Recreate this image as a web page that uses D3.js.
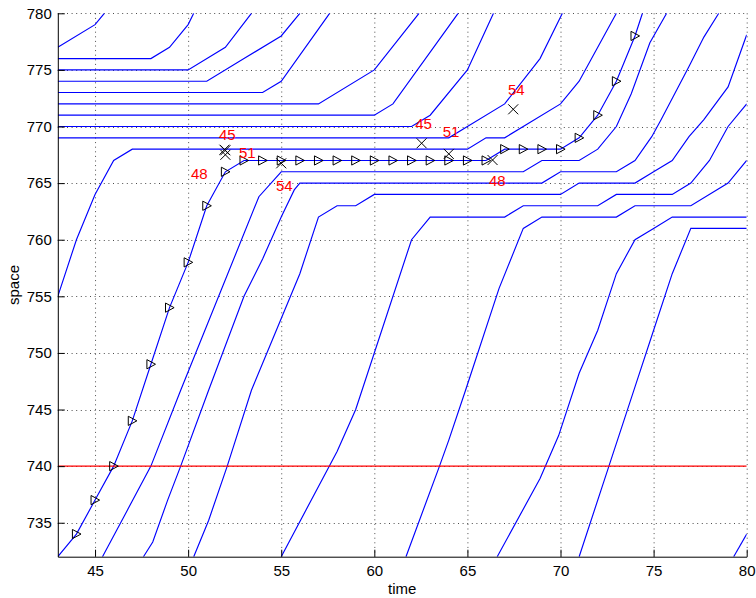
<!DOCTYPE html>
<html>
<head>
<meta charset="utf-8">
<style>
  body { margin: 0; background: #fff; }
  svg { font-family: "Liberation Sans", Arial, Helvetica, sans-serif; }
</style>
</head>
<body>
<svg width="756" height="598"></svg>
<script src="https://d3js.org/d3.v7.min.js"></script>
<script>
// vehicle trajectories, one array per vehicle, points are [time, space]
const trajectories = [
  [[43,777],[45,779],[45.5,780]],
  [[43,776],[48,776],[49,777],[50,779],[50.3,780]],
  [[43,775],[50,775],[52,777],[53.4,780]],
  [[43,774],[51,774],[53,776],[55,778],[56,780]],
  [[43,773],[54,773],[55,774],[57.6,780]],
  [[43,772],[57,772],[60,775],[62.4,780]],
  [[43,771],[60,771],[61,772],[64.5,780]],
  [[43,770],[62,770],[63,771],[65,775],[66.4,780]],
  [[43,769],[64,769],[65,770],[67,772],[68.9,776],[70.1,780]],
  [[43,755],[44,760],[45,764],[46,767],[47,768],[65,768],[66,769],[67,769],[70,772],[71,774],[73,780]],
  [[45.4,732],[46.7,736],[48,740],[49.6,746.7],[53.8,763.8],[55,766],[68,766],[69,767],[71,767],[72,768],[73,770],[73.8,772.9],[74.8,777.4],[75.7,780]],
  [[47.6,732],[48.1,733.3],[48.9,737],[49.6,740],[51.1,746.7],[53,755],[54,758.3],[55,762],[55.7,764.4],[56,765],[69,765],[70,766],[73,766],[74,767],[74.9,769.1],[75.4,770.6],[76.9,775.3],[77.7,777.9],[78.5,780]],
  [[50.3,732],[51.1,735.2],[52.1,740],[53.4,746.7],[56,757],[57,762],[58,763],[59,763],[60,764],[70,764],[71,765],[74,765],[75,766],[76,767],[76.9,769.1],[77.7,770.6],[79,773.5],[80,778.1]],
  [[55,732],[58,741.3],[59,745],[62,760],[63,762],[67,762],[68,763],[72,763],[73,764],[76,764],[77,765],[78,767],[79,770],[80,772]],
  [[61.7,732],[63.5,740],[64,742.3],[64.9,746.7],[66.7,755.7],[68,761],[69,762],[73,762],[74,763],[77,763],[79,765],[80,767]],
  [[66.6,732],[68.9,738.9],[69.9,742.7],[71,748.2],[72,752],[73,757],[74,760],[75,761],[76,762],[80,762]],
  [[71,732],[72.6,740],[74,747],[75,752],[76,757],[77,761],[80,761]],
  [[79.3,732],[80,734]]
];

// tracked vehicle, a triangle on every sample
const probe = [[43,732],[44,734],[45,737],[46,740],[47,744],[48,749],[49,754],[50,758],[51,763],[52,766],
  [53,767],[54,767],[55,767],[56,767],[57,767],[58,767],[59,767],[60,767],[61,767],[62,767],[63,767],
  [64,767],[65,767],[66,767],[67,768],[68,768],[69,768],[70,768],[71,769],[72,771],[73,774],[74,778],[74.4,780]];

// crossing marks (x) and their ids
const crossings = [[51.95,767.95],[52,767.9],[52,767.5],[55,766.75],[62.54,768.52],[64,767.58],[66.35,767.04],[67.46,771.52]];
const labelText = ["45","51","48","54","45","51","48","54"];
const labelPos = [[51.66,769.25],[52.73,767.66],[50.15,765.83],[54.72,764.8],[62.2,770.28],[63.67,769.57],[66.16,765.25],[67.18,773.3]];

const xTicks = [45,50,55,60,65,70,75,80];
const yTicks = [735,740,745,750,755,760,765,770,775,780];
const limitSpace = 740;

const svg = d3.select("svg");
const margin = {left: 57.8, right: 746.7, top: 13.3, bottom: 556.7};

const x = d3.scaleLinear().domain([43, 80]).range([margin.left, margin.right]);
const y = d3.scaleLinear().domain([732, 780]).range([margin.bottom, margin.top]);

svg.append("defs").append("clipPath").attr("id", "plot")
  .append("rect")
  .attr("x", margin.left).attr("y", margin.top)
  .attr("width", margin.right - margin.left)
  .attr("height", margin.bottom - margin.top);

// dotted grid
const grid = svg.append("g")
  .attr("stroke", "#000")
  .attr("stroke-opacity", 0.7)
  .attr("stroke-dasharray", "1,3.6");
grid.selectAll(".gx").data(xTicks).join("line")
  .attr("x1", d => x(d) + 0.5).attr("x2", d => x(d) + 0.5)
  .attr("y1", margin.top).attr("y2", margin.bottom);
grid.selectAll(".gy").data(yTicks).join("line")
  .attr("y1", d => Math.round(y(d)) + 0.5).attr("y2", d => Math.round(y(d)) + 0.5)
  .attr("x1", margin.left).attr("x2", margin.right);

const line = d3.line().x(d => x(d[0])).y(d => y(d[1]));

const plot = svg.append("g").attr("clip-path", "url(#plot)");

plot.append("g")
  .attr("fill", "none")
  .attr("stroke", "#0000ff")
  .attr("stroke-width", 1.15)
  .selectAll("path")
  .data(trajectories)
  .join("path")
  .attr("d", line);

plot.append("path")
  .datum(probe)
  .attr("fill", "none")
  .attr("stroke", "#0000ff")
  .attr("stroke-width", 1.15)
  .attr("d", line);

plot.append("line")
  .attr("x1", margin.left).attr("x2", margin.right)
  .attr("y1", y(limitSpace)).attr("y2", y(limitSpace))
  .attr("stroke", "#ff0000")
  .attr("stroke-width", 1.15);

// triangle markers
svg.append("g")
  .attr("fill", "none")
  .attr("stroke", "#000")
  .attr("stroke-width", 1)
  .selectAll("path")
  .data(probe.filter(d => d[1] > 732 && d[1] < 780))
  .join("path")
  .attr("transform", d => `translate(${x(d[0])},${y(d[1])})`)
  .attr("d", "M-4,-4.6L4.6,0L-4,4.6Z");

// x markers
svg.append("g")
  .attr("fill", "none")
  .attr("stroke", "#000")
  .attr("stroke-width", 1)
  .selectAll("path")
  .data(crossings)
  .join("path")
  .attr("transform", d => `translate(${x(d[0])},${y(d[1])})`)
  .attr("d", "M-5,-5L5,5M-5,5L5,-5");

svg.append("g")
  .attr("fill", "#ff0000")
  .attr("font-size", 15)
  .selectAll("text")
  .data(labelPos)
  .join("text")
  .attr("x", d => x(d[0]))
  .attr("y", d => y(d[1]))
  .attr("dy", "0.36em")
  .text((d, i) => labelText[i]);

// axes
const xAxis = svg.append("g")
  .attr("transform", `translate(0,${margin.bottom})`)
  .call(d3.axisBottom(x).tickValues(xTicks).tickSizeInner(-7).tickSizeOuter(0).tickPadding(9));
const yAxis = svg.append("g")
  .attr("transform", `translate(${margin.left},0)`)
  .call(d3.axisLeft(y).tickValues(yTicks).tickSizeInner(-7).tickSizeOuter(0).tickPadding(6));

[xAxis, yAxis].forEach(g => {
  g.attr("font-size", 15).attr("font-family", null);
  g.selectAll("text").attr("fill", "#000");
  g.selectAll("line, path").attr("stroke", "#000");
});

svg.append("text")
  .attr("x", (margin.left + margin.right) / 2)
  .attr("y", 594)
  .attr("text-anchor", "middle")
  .attr("font-size", 15)
  .text("time");

svg.append("text")
  .attr("transform", `translate(19,${(margin.top + margin.bottom) / 2}) rotate(-90)`)
  .attr("text-anchor", "middle")
  .attr("font-size", 15)
  .text("space");
</script>
</body>
</html>
